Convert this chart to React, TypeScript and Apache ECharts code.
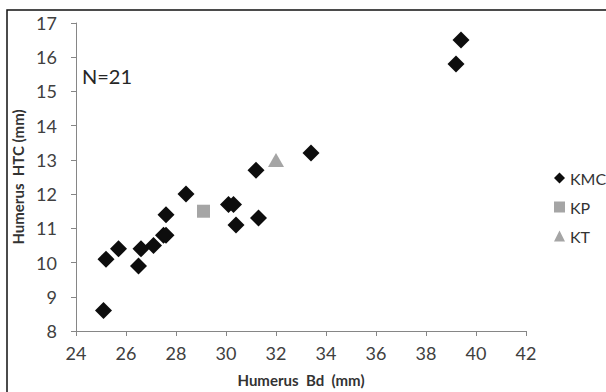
import React, { useEffect, useRef } from "react";
import * as echarts from "echarts";

const kmcX = [25.1, 25.2, 25.7, 26.5, 26.6, 27.1, 27.5, 27.6, 27.6, 28.4, 30.1, 30.3, 30.4, 31.3, 31.2, 33.4, 39.2, 39.4];
const kmcY = [8.6, 10.1, 10.4, 9.9, 10.4, 10.5, 10.8, 10.8, 11.4, 12.0, 11.7, 11.7, 11.1, 11.3, 12.7, 13.2, 15.8, 16.5];
const kpX = [29.1];
const kpY = [11.5];
const ktX = [32.0];
const ktY = [13.0];
const seriesNames = ["KMC", "KP", "KT"];
const xTitle = "Humerus  Bd  (mm)";
const yTitle = "Humerus  HTC (mm)";
const noteText = "N=21";

const FONT = "Lato, 'Open Sans', sans-serif";
const GRAY = "#a5a5a5";

function pairs(xs: number[], ys: number[]) {
  return xs.map((x, i) => [x, ys[i]]);
}

export default function App() {
  const ref = useRef<HTMLDivElement>(null);
  useEffect(() => {
    if (!ref.current) return;
    const chart = echarts.init(ref.current, undefined, { renderer: "svg" });
    chart.setOption({
      animation: false,
      backgroundColor: "#ffffff",
      textStyle: { fontFamily: FONT },
      grid: { left: 76, top: 23, width: 450, height: 308, containLabel: false },
      xAxis: {
        type: "value",
        min: 24,
        max: 42,
        interval: 2,
        name: xTitle,
        nameLocation: "middle",
        nameGap: 41,
        nameTextStyle: { fontFamily: FONT, fontSize: 15, fontWeight: "bold", color: "#333333" },
        axisLine: { show: true, lineStyle: { color: "#868686", width: 1 } },
        axisTick: { show: true, length: 5, lineStyle: { color: "#868686" } },
        axisLabel: { fontFamily: FONT, fontSize: 18, color: "#404040", margin: 13 },
        splitLine: { show: false },
      },
      yAxis: {
        type: "value",
        min: 8,
        max: 17,
        interval: 1,
        name: yTitle,
        nameLocation: "middle",
        nameGap: 41,
        nameRotate: 90,
        nameTextStyle: { fontFamily: FONT, fontSize: 15, fontWeight: "bold", color: "#333333" },
        axisLine: { show: true, lineStyle: { color: "#868686", width: 1 } },
        axisTick: { show: true, length: 5, lineStyle: { color: "#868686" } },
        axisLabel: { fontFamily: FONT, fontSize: 18, color: "#404040", margin: 19 },
        splitLine: { show: false },
      },
      legend: {
        orient: "vertical",
        left: 549,
        top: 165,
        itemGap: 13,
        itemWidth: 11,
        itemHeight: 11,
        textStyle: { fontFamily: FONT, fontSize: 16, color: "#333333", lineHeight: 16 },
        data: [
          { name: seriesNames[0], icon: "diamond" },
          { name: seriesNames[1], icon: "rect" },
          { name: seriesNames[2], icon: "triangle" },
        ],
      },
      graphic: [
        {
          type: "rect",
          shape: { x: 7, y: 10, width: 640, height: 420 },
          style: { fill: "none", stroke: "#111111", lineWidth: 1.5 },
          silent: true,
          z: 0,
        },
        {
          type: "text",
          left: 82,
          top: 66,
          style: { text: noteText, fontFamily: FONT, fontSize: 20, fill: "#262626" },
        },
      ],
      series: [
        {
          name: seriesNames[0],
          type: "scatter",
          symbol: "diamond",
          symbolSize: 17,
          itemStyle: { color: "#0d0d0d", opacity: 1 },
          data: pairs(kmcX, kmcY),
        },
        {
          name: seriesNames[1],
          type: "scatter",
          symbol: "rect",
          symbolSize: 13,
          itemStyle: { color: GRAY, opacity: 1 },
          data: pairs(kpX, kpY),
        },
        {
          name: seriesNames[2],
          type: "scatter",
          symbol: "triangle",
          symbolSize: [16, 14],
          itemStyle: { color: GRAY, opacity: 1 },
          data: pairs(ktX, ktY),
        },
      ],
    });
    return () => chart.dispose();
  }, []);
  return (
    <div
      ref={ref}
      style={{ position: "fixed", left: 0, top: 0, width: 606, height: 392, background: "#fff" }}
    />
  );
}
